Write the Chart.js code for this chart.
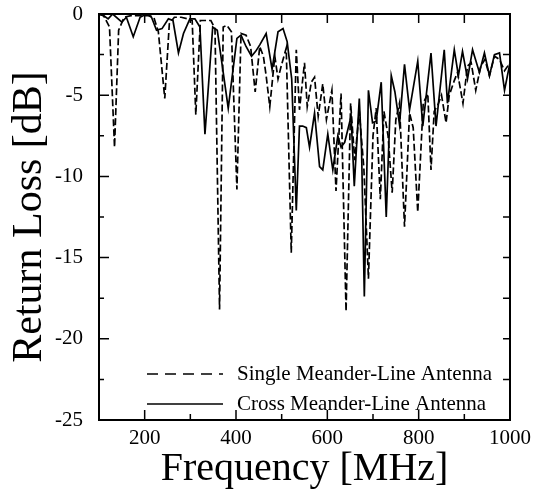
<!DOCTYPE html>
<html>
<head>
<meta charset="utf-8">
<script src="https://cdn.jsdelivr.net/npm/chart.js@4.4.0/dist/chart.umd.min.js"></script>
<style>
  html, body { margin: 0; padding: 0; background: #ffffff; }
</style>
</head>
<body>
<canvas id="lossChart" width="534" height="495"></canvas>
<script>
// Return loss curves (MHz / dB)
const singleFreq = [100, 110, 123, 134, 143, 155, 170, 190, 210, 220, 230, 244, 254, 265, 280, 295, 304, 312, 322, 335,
    345, 354, 364, 372, 380, 390, 402, 411, 422, 432, 442, 452, 460, 466, 474, 485, 492, 499, 510, 521,
    532, 539, 550, 556, 565, 572, 580, 590, 598, 610, 619, 630, 641, 651, 660, 670, 680, 690, 700, 707,
    716, 724, 733, 742, 750, 758, 769, 780, 788, 798, 810, 820, 827, 834, 842, 850, 860, 867, 878, 885,
    897, 907, 915, 925, 936, 945, 955, 966, 977, 988, 1000];
const singleLoss = [0, -0.1, -0.8, -8.2, -1.0, -0.2, -0.1, -0.1, -0.1, -0.2, -1.1, -5.2, -0.6, -0.2, -0.2, -0.3, -0.4, -6.2, -0.4, -0.4,
    -0.4, -0.9, -18.2, -0.8, -0.7, -1.1, -10.8, -1.2, -1.3, -2.0, -4.8, -2.0, -2.6, -3.8, -5.7, -2.6, -4.0, -3.2, -2.1, -14.7,
    -2.2, -5.9, -3.0, -5.7, -4.2, -3.9, -6.3, -4.3, -6.5, -4.7, -10.9, -4.9, -18.3, -5.5, -9.0, -6.0, -9.5, -16.3, -7.5, -5.8,
    -11.4, -6.0, -7.5, -11.0, -6.5, -5.5, -13.1, -6.1, -7.0, -12.2, -5.5, -4.9, -9.6, -6.0, -5.6, -5.0, -6.7, -5.0, -4.1, -3.6,
    -5.5, -3.2, -3.0, -4.7, -3.2, -2.8, -3.8, -2.6, -2.8, -3.5, -3.0];

const crossFreq = [100, 110, 120, 130, 150, 160, 175, 190, 204, 215, 226, 238, 252, 262, 274, 285, 299, 310, 321, 332,
    349, 359, 383, 402, 411, 422, 434, 443, 452, 466, 479, 492, 503, 512, 522, 532, 539, 546, 554, 561,
    572, 583, 590, 601, 612, 623, 630, 638, 652, 659, 670, 675, 681, 690, 699, 707, 718, 729, 740, 748,
    758, 769, 780, 798, 809, 827, 838, 856, 863, 878, 887, 896, 907, 918, 933, 944, 955, 966, 977, 988,
    1000];
const crossLoss = [0, -0.1, -0.3, 0, -0.5, -0.2, -1.4, -0.2, 0, -0.2, -1.0, -0.9, -0.3, -0.4, -2.4, -1.2, -0.3, -0.3, -0.8, -7.4,
    -0.8, -1.0, -5.8, -1.5, -1.3, -2.0, -2.6, -2.3, -1.9, -1.2, -3.4, -1.1, -0.9, -1.7, -4.0, -12.1, -6.9, -6.9, -7.0, -8.2,
    -6.1, -9.4, -9.6, -7.4, -9.6, -7.5, -8.2, -7.9, -6.3, -10.6, -5.2, -8.4, -17.4, -4.7, -6.7, -6.6, -4.2, -12.5, -3.8, -4.8,
    -6.8, -3.1, -5.9, -2.9, -6.9, -2.4, -6.9, -2.2, -5.5, -2.2, -3.8, -2.3, -4.0, -2.2, -3.6, -2.4, -3.8, -2.5, -2.4, -4.7,
    -3.0];

const seriesNames = ['Single Meander-Line Antenna', 'Cross Meander-Line Antenna'];
const xTickValues = [200, 400, 600, 800, 1000];
const xMinorValues = [300, 500, 700, 900];
const yTickValues = [0, -5, -10, -15, -20, -25];
const yMinorValues = [-2.5, -7.5, -12.5, -17.5, -22.5];

const SERIF = "'Liberation Serif', 'Times New Roman', serif";

function toPoints(xs, ys) {
    return xs.map((x, i) => ({ x: x, y: ys[i] }));
}

// frame box with inward tick marks on all four sides
const frameTicks = {
    id: 'frameTicks',
    afterDraw(chart) {
        const { ctx, chartArea: a, scales } = chart;
        ctx.save();
        ctx.strokeStyle = '#000';
        ctx.lineWidth = 2;
        ctx.strokeRect(a.left, a.top, a.right - a.left, a.bottom - a.top);
        ctx.lineWidth = 1.5;
        ctx.beginPath();
        const xt = (v, bottomLen, topLen) => {
            const px = scales.x.getPixelForValue(v);
            ctx.moveTo(px, a.bottom); ctx.lineTo(px, a.bottom - bottomLen);
            ctx.moveTo(px, a.top); ctx.lineTo(px, a.top + topLen);
        };
        const yt = (v, leftLen, rightLen) => {
            const py = scales.y.getPixelForValue(v);
            ctx.moveTo(a.left, py); ctx.lineTo(a.left + leftLen, py);
            ctx.moveTo(a.right, py); ctx.lineTo(a.right - rightLen, py);
        };
        xTickValues.forEach(v => xt(v, 10, 9));
        xMinorValues.forEach(v => xt(v, 6, 9));
        yTickValues.forEach(v => yt(v, 10, 7));
        yMinorValues.forEach(v => yt(v, 5, 7));
        ctx.stroke();
        ctx.restore();
    }
};

// legend drawn inside the plot, lower right
const insideLegend = {
    id: 'insideLegend',
    afterDatasetsDraw(chart) {
        const { ctx, chartArea: a } = chart;
        ctx.save();
        ctx.font = '21px ' + SERIF;
        ctx.fillStyle = '#000';
        ctx.textBaseline = 'middle';
        chart.data.datasets.forEach((ds, i) => {
            const y = a.bottom - 46 + i * 30;
            ctx.strokeStyle = '#000';
            ctx.lineWidth = 1.6;
            ctx.setLineDash(i === 0 ? [11, 7] : []);
            ctx.beginPath();
            ctx.moveTo(a.left + 48, y);
            ctx.lineTo(a.left + 124, y);
            ctx.stroke();
            ctx.fillText(ds.label, a.left + 138, y);
        });
        ctx.restore();
    }
};

new Chart(document.getElementById('lossChart'), {
    type: 'line',
    data: {
        datasets: [
            {
                label: seriesNames[0],
                data: toPoints(singleFreq, singleLoss),
                borderColor: '#000000',
                borderWidth: 1.7,
                borderDash: [7, 3],
                pointRadius: 0,
                tension: 0,
                fill: false
            },
            {
                label: seriesNames[1],
                data: toPoints(crossFreq, crossLoss),
                borderColor: '#000000',
                borderWidth: 1.7,
                pointRadius: 0,
                tension: 0,
                fill: false
            }
        ]
    },
    options: {
        responsive: false,
        animation: false,
        layout: { padding: { top: 14, right: 24, left: 0, bottom: 0 } },
        plugins: {
            legend: { display: false },
            tooltip: { enabled: false }
        },
        scales: {
            x: {
                type: 'linear',
                min: 100,
                max: 1000,
                afterBuildTicks: s => { s.ticks = xTickValues.map(v => ({ value: v })); },
                afterFit: s => { s.height = 75; s.paddingLeft = 0; s.paddingRight = 0; },
                grid: { display: false },
                border: { display: false },
                ticks: {
                    color: '#000',
                    padding: 0,
                    maxRotation: 0,
                    font: { family: SERIF, size: 21, lineHeight: 1 },
                    callback: v => String(v)
                },
                title: {
                    display: true,
                    text: 'Frequency [MHz]',
                    color: '#000',
                    font: { family: SERIF, size: 40, lineHeight: 1 },
                    padding: { top: 0, bottom: 6 }
                }
            },
            y: {
                type: 'linear',
                min: -25,
                max: 0,
                afterBuildTicks: s => { s.ticks = yTickValues.map(v => ({ value: v })); },
                afterFit: s => { s.width = 99; s.paddingTop = 0; s.paddingBottom = 0; },
                grid: { display: false },
                border: { display: false },
                ticks: {
                    color: '#000',
                    padding: 8,
                    font: { family: SERIF, size: 21, lineHeight: 1 },
                    callback: v => String(v)
                },
                title: {
                    display: true,
                    text: 'Return Loss [dB]',
                    color: '#000',
                    font: { family: SERIF, size: 42, lineHeight: 1 },
                    padding: { top: 9, bottom: 0 }
                }
            }
        }
    },
    plugins: [frameTicks, insideLegend]
});
</script>
</body>
</html>
